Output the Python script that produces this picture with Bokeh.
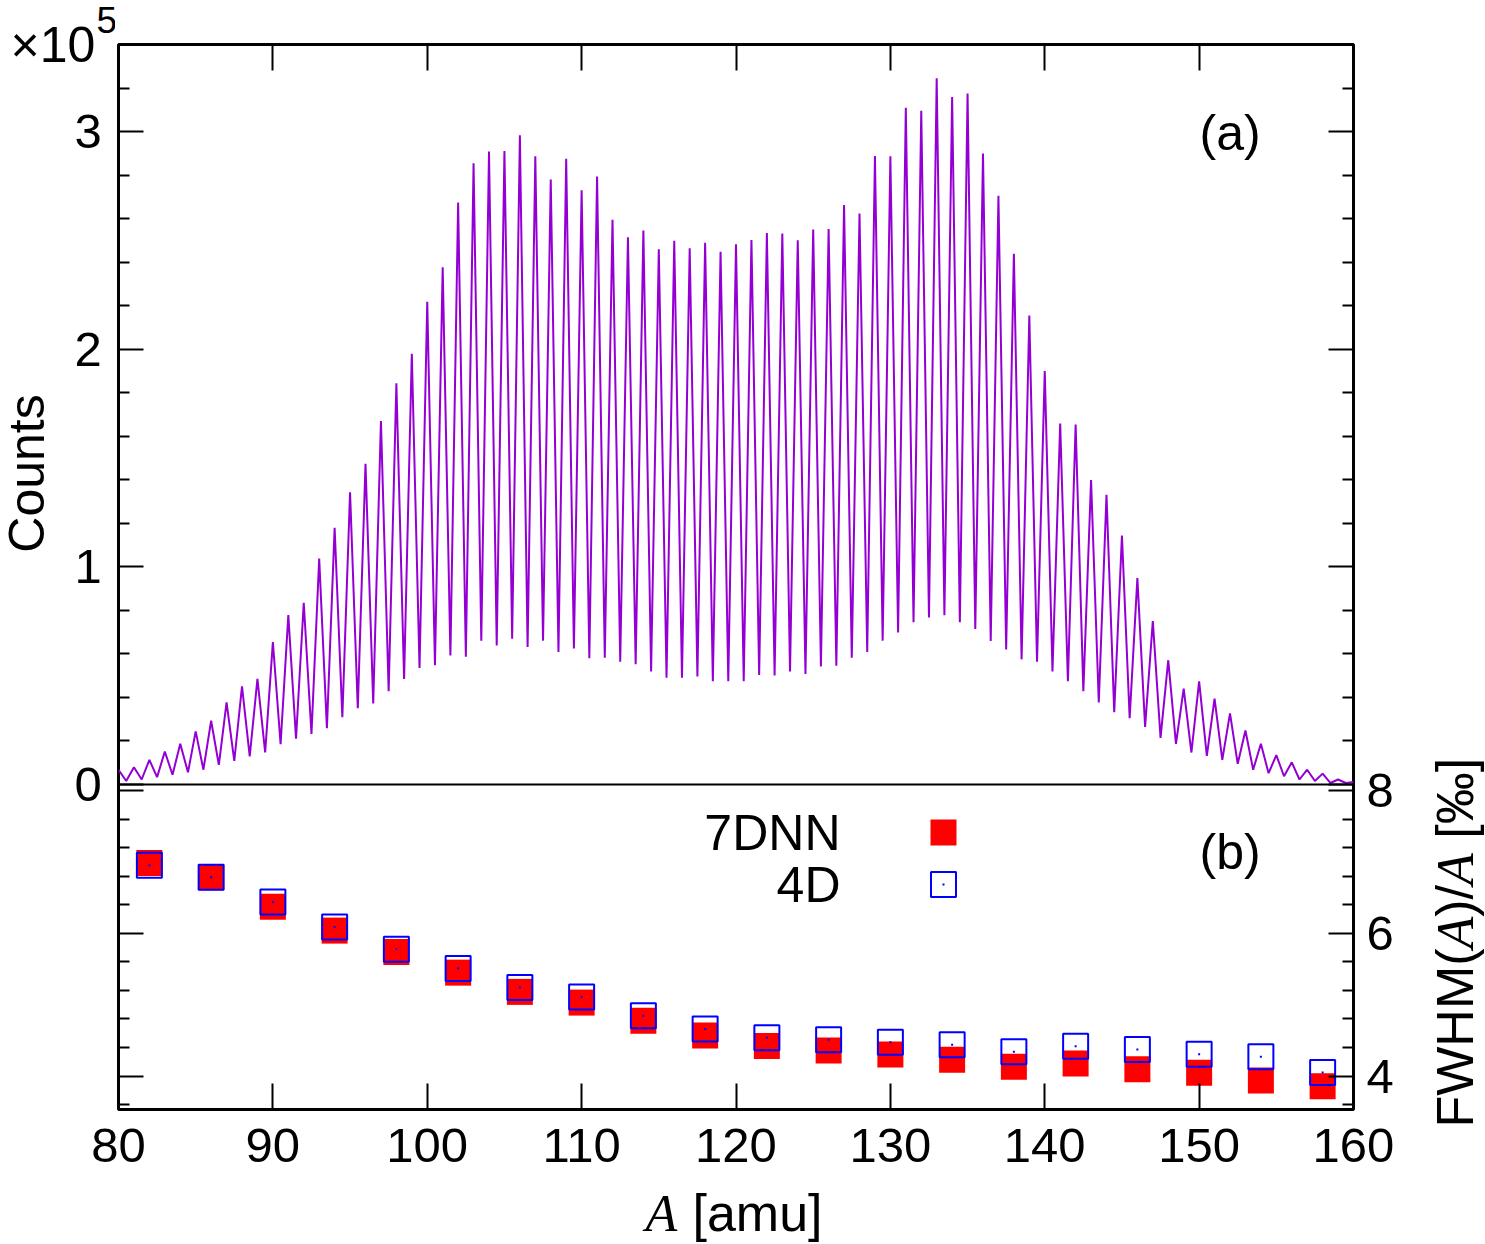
import math
from bokeh.plotting import figure
from bokeh.layouts import row, column
from bokeh.models import (Range1d, LinearAxis, FixedTicker, CustomJSTickFormatter,
                          Label, Span)
from bokeh.embed import file_html
from bokeh.resources import INLINE

# ---------------- data ----------------
# (a) mass spectrum: peak maxima at integer A and minima at half-integer A, in units of 1e5 counts
peak_A = list(range(80, 161))
peak_counts = [0.068, 0.079, 0.113, 0.151, 0.187, 0.244, 0.293, 0.377, 0.451, 0.485,
               0.654, 0.778, 0.835, 1.038, 1.180, 1.343, 1.473, 1.670, 1.843, 1.979,
               2.218, 2.376, 2.674, 2.854, 2.908, 2.911, 2.983, 2.886, 2.780, 2.875,
               2.730, 2.793, 2.595, 2.514, 2.545, 2.459, 2.498, 2.464, 2.489, 2.448,
               2.482, 2.502, 2.534, 2.532, 2.500, 2.550, 2.552, 2.662, 2.624, 2.888,
               2.886, 3.109, 3.096, 3.245, 3.159, 3.175, 2.899, 2.705, 2.439, 2.155,
               1.900, 1.658, 1.654, 1.399, 1.331, 1.144, 0.948, 0.751, 0.571, 0.440,
               0.474, 0.395, 0.327, 0.248, 0.187, 0.135, 0.102, 0.068, 0.050, 0.023,
               0.011]
valley_A = [a + 0.5 for a in range(80, 160)]
valley_counts = [0.016, 0.023, 0.034, 0.045, 0.056, 0.068, 0.090, 0.108, 0.129, 0.147,
                 0.185, 0.210, 0.232, 0.259, 0.309, 0.350, 0.372, 0.429, 0.485, 0.535,
                 0.548, 0.593, 0.587, 0.661, 0.639, 0.670, 0.632, 0.661, 0.609, 0.625,
                 0.580, 0.582, 0.564, 0.553, 0.519, 0.490, 0.490, 0.496, 0.474, 0.474,
                 0.474, 0.503, 0.501, 0.519, 0.508, 0.542, 0.546, 0.582, 0.609, 0.661,
                 0.699, 0.745, 0.767, 0.778, 0.745, 0.715, 0.659, 0.620, 0.575, 0.564,
                 0.519, 0.474, 0.429, 0.377, 0.332, 0.305, 0.264, 0.214, 0.187, 0.147,
                 0.131, 0.113, 0.095, 0.068, 0.052, 0.038, 0.023, 0.016, 0.007, 0.007]

# (b) relative mass resolution FWHM(A)/A in permille
res_A = [82, 86, 90, 94, 98, 102, 106, 110, 114, 118,
         122, 126, 130, 134, 138, 142, 146, 150, 154, 158]
fwhm_7dnn = [6.99, 6.79, 6.375, 6.04, 5.74, 5.45, 5.18, 5.03, 4.775, 4.568,
             4.42, 4.358, 4.30, 4.227, 4.129, 4.175, 4.096, 4.045, 3.937, 3.857]
fwhm_4d = [6.958, 6.79, 6.44, 6.09, 5.78, 5.509, 5.242, 5.11, 4.845, 4.66,
           4.536, 4.508, 4.475, 4.437, 4.34, 4.418, 4.372, 4.306, 4.27, 4.05]

x_major = [80, 90, 100, 110, 120, 130, 140, 150, 160]
counts_major = [0, 1, 2, 3]
counts_minor = [0.2, 0.4, 0.6, 0.8, 1.2, 1.4, 1.6, 1.8, 2.2, 2.4, 2.6, 2.8, 3.2]
fwhm_major = [4, 6, 8]
fwhm_minor = [3.6, 4.4, 4.8, 5.2, 5.6, 6.4, 6.8, 7.2, 7.6]

# ---------------- geometry (page pixels) ----------------
W, H = 1485, 1244
FL, FR, FT, FZ, FB = 118, 1353, 44, 784, 1109   # frame left/right/top, panel split, bottom
LW = 115          # width of left text column
RX = 1425         # start of right text column
TLH = 74          # height of the top-left strip
MB = 3            # main figure border left/bottom
XLAB_TOP = 1184   # top of x-label strip
X0, X1 = 80, 160
C_TOP = 3.4
F_LO, F_HI = 3.53, 8.09
PX_C = (FZ - FT) / C_TOP
PX_F = (FB - FZ) / (F_HI - F_LO)
C_LO = -(FB - FZ) / PX_C
F_TOP = F_HI + (FZ - FT) / PX_F

def c_of_f(f):
    return (f - F_HI) * PX_F / PX_C

def f_of_c(c):
    return F_HI + c * PX_C / PX_F

def xd(px):
    return X0 + (px - FL) * (X1 - X0) / (FR - FL)

def cd(py):
    return (FZ - py) / PX_C

def fd(py):
    return F_HI + (FZ - py) / PX_F

FONT = "Liberation Sans"
SERIF = "Liberation Serif"
TICK_FS = "49px"
BL_SHIFT = 0.35   # renderer puts the alphabetic baseline ~0.35 em below the anchor


def plain(**kw):
    f = figure(output_backend="svg", toolbar_location=None, frame_align=False,
               background_fill_color="white", border_fill_color="white", **kw)
    f.outline_line_color = None
    for g in f.grid:
        g.visible = False
    return f


def add_label(fig, conv, text, px, py, fs=50, font=FONT, style="normal", align="left",
              rotated=False):
    shift = BL_SHIFT * fs
    if rotated:
        px, ang = px - shift, math.pi / 2
    else:
        py, ang = py - shift, 0.0
    x, y = conv(px, py)
    fig.add_layout(Label(x=x, y=y, text=text, text_font=font, text_font_size=f"{fs}px",
                         text_font_style=style, text_align=align,
                         text_baseline="alphabetic", angle=ang, text_color="black"))


def style_axis(ax, standoff, show_labels=True, tick_major=25, tick_minor=11):
    ax.axis_line_color = None
    ax.major_tick_in = tick_major
    ax.major_tick_out = 0
    ax.minor_tick_in = tick_minor
    ax.minor_tick_out = 0
    ax.major_tick_line_color = "black"
    ax.minor_tick_line_color = "black"
    ax.major_tick_line_width = 2
    ax.minor_tick_line_width = 2
    ax.major_label_text_font = FONT
    ax.major_label_text_color = "black"
    ax.major_label_standoff = standoff
    if show_labels:
        ax.major_label_text_font_size = TICK_FS
    else:
        ax.major_label_text_font_size = "0px"
        ax.formatter = CustomJSTickFormatter(code="return '';")

# ---------------- main plot (both panels share one frame) ----------------
p = figure(frame_width=FR - FL, frame_height=FB - FT, frame_align=False,
           min_border_left=MB, min_border_right=RX - FR,
           min_border_top=FT, min_border_bottom=MB,
           x_range=Range1d(X0, X1), y_range=Range1d(C_LO, C_TOP),
           output_backend="svg", toolbar_location=None,
           background_fill_color="white", border_fill_color="white")
p.extra_y_ranges = {"fwhm": Range1d(F_LO, F_TOP)}
p.grid.visible = False
p.outline_line_color = "black"
p.outline_line_width = 3

xb = p.xaxis[0]
xb.ticker = FixedTicker(ticks=x_major, minor_ticks=[])
style_axis(xb, 0, show_labels=False, tick_major=26)

xt = LinearAxis(ticker=FixedTicker(ticks=x_major, minor_ticks=[]))
style_axis(xt, 0, show_labels=False, tick_major=26)
p.add_layout(xt, "above")

yl = p.yaxis[0]
yl.ticker = FixedTicker(ticks=counts_major + [c_of_f(f) for f in fwhm_major],
                        minor_ticks=counts_minor + [c_of_f(f) for f in fwhm_minor])
style_axis(yl, 0, show_labels=False)

yr = LinearAxis(y_range_name="fwhm",
                ticker=FixedTicker(ticks=fwhm_major + [f_of_c(c) for c in counts_major],
                                   minor_ticks=fwhm_minor + [f_of_c(c) for c in counts_minor]))
style_axis(yr, 13)
yr.formatter = CustomJSTickFormatter(code="return tick < 8.05 ? tick.toFixed(0) : '';")
p.add_layout(yr, "right")

p.add_layout(Span(location=0, dimension="width", line_color="black", line_width=2))

# (a) spectrum
spec_x, spec_y = [], []
for i in range(len(valley_A)):
    spec_x += [peak_A[i], valley_A[i]]
    spec_y += [peak_counts[i], valley_counts[i]]
spec_x.append(peak_A[-1])
spec_y.append(peak_counts[-1])
p.line(spec_x, spec_y, line_color="#9400D3", line_width=2)

# (b) resolution points
p.scatter(res_A, fwhm_7dnn, y_range_name="fwhm", marker="square", size=26,
          fill_color="#FF0000", line_color=None)
p.scatter(res_A, fwhm_4d, y_range_name="fwhm", marker="square", size=25,
          fill_color=None, line_color="#0000FF", line_width=2)
p.scatter(res_A, fwhm_4d, y_range_name="fwhm", marker="square", size=2,
          fill_color="#0000FF", line_color=None)

# legend (gnuplot style: label on the left, key on the right)
legend_x = xd(943)
p.scatter([legend_x], [fd(832)], y_range_name="fwhm", marker="square", size=26,
          fill_color="#FF0000", line_color=None)
p.scatter([legend_x], [fd(884)], y_range_name="fwhm", marker="square", size=25,
          fill_color=None, line_color="#0000FF", line_width=2)
p.scatter([legend_x], [fd(884)], y_range_name="fwhm", marker="square", size=2,
          fill_color="#0000FF", line_color=None)

main_conv = lambda px, py: (xd(px), cd(py))
add_label(p, main_conv, "7DNN", 840, 850, align="right")
add_label(p, main_conv, "4D", 840, 902, align="right")
add_label(p, main_conv, "(a)", 1199, 150)
add_label(p, main_conv, "(b)", 1199, 869)

# ---------------- top-left strip: x10^5 ----------------
tl = plain(width=LW, height=TLH, min_border=0,
           x_range=Range1d(0, LW), y_range=Range1d(TLH, 0),
           x_axis_location=None, y_axis_location=None)
page = lambda px, py: (px, py)
add_label(tl, page, "\u00d710", 10, 62)
add_label(tl, page, "5", 96, 32, fs=37)

# ---------------- left strip: Counts tick labels and title ----------------
LH = FB + MB - TLH
left = plain(width=LW, height=LH, min_border=0, min_border_right=LW - 72,
             x_range=Range1d(0, 72), y_range=Range1d(cd(FB + MB), cd(TLH)),
             x_axis_location=None, y_axis_location="right")
yla = left.yaxis[0]
yla.ticker = FixedTicker(ticks=counts_major, minor_ticks=[])
style_axis(yla, 2, tick_major=0, tick_minor=0)
yla.major_tick_line_color = None
yla.minor_tick_line_color = None
add_label(left, lambda px, py: (px, cd(py)), "Counts", 44, 473, align="center", rotated=True)

# ---------------- x tick labels strip ----------------
B1H = XLAB_TOP - (FB + MB)
bx = plain(frame_width=FR - FL, frame_height=1, min_border_left=FL, min_border_right=RX - FR,
           min_border_top=0, min_border_bottom=B1H - 1,
           x_range=Range1d(X0, X1), y_range=Range1d(0, 1), y_axis_location=None)
xba = bx.xaxis[0]
xba.ticker = FixedTicker(ticks=x_major, minor_ticks=[])
style_axis(xba, 15, tick_major=0, tick_minor=0)
xba.major_tick_line_color = None
xba.minor_tick_line_color = None

# ---------------- x axis title strip ----------------
bt = plain(width=RX, height=H - XLAB_TOP, min_border=0,
           x_range=Range1d(0, RX), y_range=Range1d(H, XLAB_TOP),
           x_axis_location=None, y_axis_location=None)
add_label(bt, page, "A", 645, 1231, fs=52, font=SERIF, style="italic")
add_label(bt, page, "[amu]", 692, 1231, fs=52)

# ---------------- right strip: FWHM(A)/A [permille] ----------------
rt = plain(width=W - RX, height=H, min_border=0,
           x_range=Range1d(RX, W), y_range=Range1d(H, 0),
           x_axis_location=None, y_axis_location=None)
fs = 52
# (text, font, style, advance in em incl. following gap)
pieces = [("FWHM(", FONT, "normal", 3.443), ("A", SERIF, "italic", 0.611),
          (")/", FONT, "normal", 0.611), ("A", SERIF, "italic", 0.611 + 0.278),
          ("[\u2030]", FONT, "normal", 1.556)]
py = 1127
for txt, fnt, sty, em in pieces:
    add_label(rt, page, txt, 1473, py, fs=fs, font=fnt, style=sty, rotated=True)
    py -= em * fs

layout = row(column(row(column(tl, left), p), bx, bt), rt)
open("out.html", "w").write(file_html(layout, INLINE))
